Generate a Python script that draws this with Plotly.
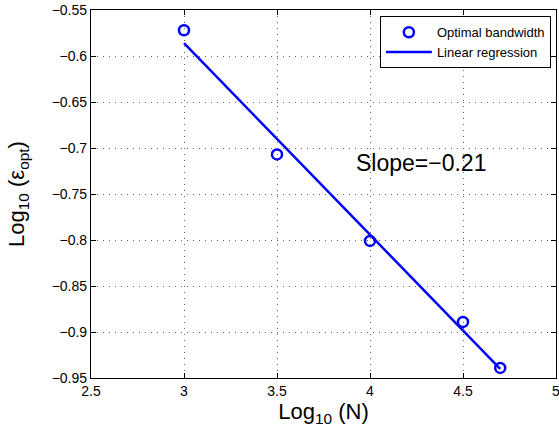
import plotly.graph_objects as go

log_n = [3.0, 3.5, 4.0, 4.5, 4.7]
log_eps = [-0.572, -0.707, -0.801, -0.889, -0.939]
reg_x = [3.0, 4.7]
reg_y = [-0.586, -0.940]
x_ticks = [2.5, 3, 3.5, 4, 4.5, 5]
y_ticks = [-0.95, -0.9, -0.85, -0.8, -0.75, -0.7, -0.65, -0.6, -0.55]

FONT = "Liberation Sans"

fig = go.Figure()
fig.add_trace(go.Scatter(
    x=log_n, y=log_eps, mode="markers", name="Optimal bandwidth",
    marker=dict(symbol="circle-open", size=10, color="#0000ff", line=dict(width=2.5, color="#0000ff")),
))
fig.add_trace(go.Scatter(
    x=reg_x, y=reg_y, mode="lines", name="Linear regression",
    line=dict(color="#0000ff", width=2.5),
))

axis_common = dict(
    showline=True, linecolor="black", linewidth=1.2, mirror="ticks",
    ticks="inside", ticklen=5, tickcolor="black",
    showgrid=True, gridcolor="#666", griddash="1px,5px", gridwidth=1,
    zeroline=False, automargin=False, ticklabeloverflow="allow",
    tickfont=dict(family=FONT, size=14, color="black"),
)

fig.update_xaxes(
    range=[2.5, 5], tickvals=x_ticks, ticktext=[f"{v:g}" for v in x_ticks],
    title=dict(text="Log<sub>10</sub> (N)", font=dict(family=FONT, size=22, color="black"), standoff=4),
    **axis_common,
)
fig.update_yaxes(
    range=[-0.95, -0.55], tickvals=y_ticks, ticktext=[f"{v:g}".replace("-", "\u2212") for v in y_ticks],
    title=dict(text="Log<sub>10</sub> (\u03b5<sub>opt</sub>)", font=dict(family=FONT, size=22, color="black"), standoff=20),
    **axis_common,
)

fig.add_annotation(
    x=3.915, y=-0.716, xref="x", yref="y", text="Slope=\u22120.21", showarrow=False,
    xanchor="left", yanchor="middle",
    font=dict(family=FONT, size=23, color="black"),
)

fig.update_layout(
    width=559, height=434,
    margin=dict(l=91, r=3, t=10, b=56),
    paper_bgcolor="white", plot_bgcolor="white",
    showlegend=True,
    legend=dict(
        x=0.989, y=0.983, xanchor="right", yanchor="top",
        bordercolor="black", borderwidth=1, bgcolor="white",
        font=dict(family=FONT, size=13, color="black"),
        tracegroupgap=0, itemwidth=46,
    ),
)

fig.write_html(
    "out.html",
    config={"displayModeBar": False},
    post_script="document.body.style.margin='0';document.body.style.overflow='hidden';",
)
